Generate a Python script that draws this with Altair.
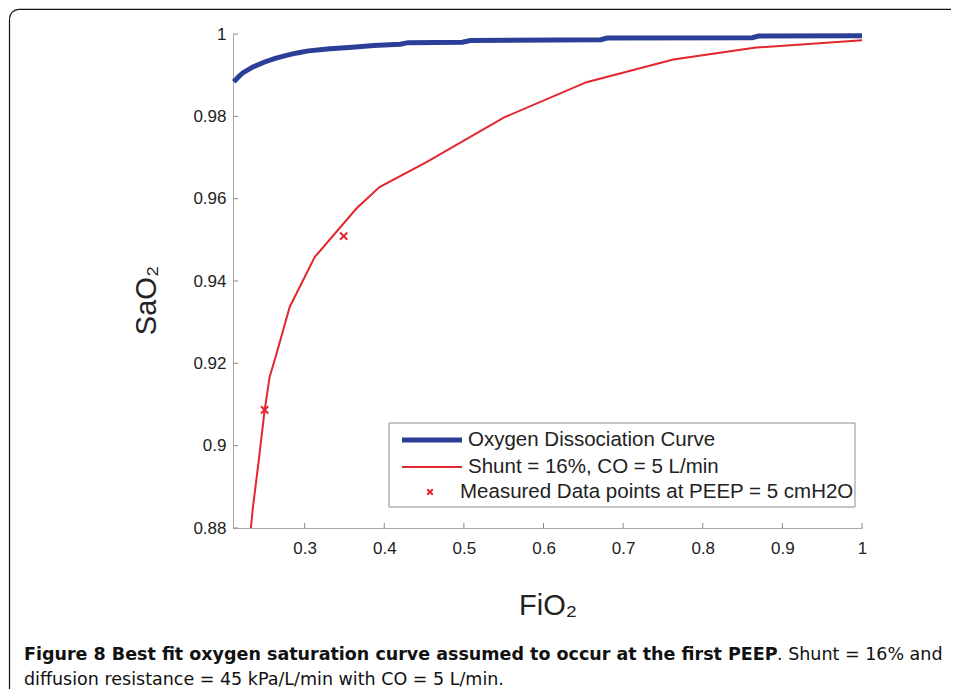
import altair as alt
import pandas as pd

# ---------------- data ----------------
ox_fio2 = [0.211, 0.218, 0.2227, 0.235, 0.2497, 0.263, 0.277, 0.2905, 0.3046, 0.332,
           0.36, 0.3867, 0.42, 0.43, 0.498, 0.508, 0.672, 0.68, 0.862, 0.87, 1.0]
ox_sao2 = [0.9884, 0.9898, 0.9906, 0.9920, 0.9932, 0.9941, 0.9948, 0.9954, 0.9959, 0.9964,
           0.9968, 0.9972, 0.9975, 0.9979, 0.9980, 0.9984, 0.9986, 0.9990, 0.9991, 0.9995, 0.9996]

shunt_fio2 = [0.2325, 0.235, 0.2426, 0.2497, 0.256, 0.2652, 0.2812, 0.3126, 0.365,
              0.394, 0.453, 0.55, 0.654, 0.763, 0.867, 1.0]
shunt_sao2 = [0.880, 0.885, 0.8968, 0.9086, 0.9167, 0.9227, 0.9337, 0.9458, 0.9576,
              0.9628, 0.9689, 0.9797, 0.9883, 0.9938, 0.9967, 0.9985]

meas_fio2 = [0.2497, 0.349]
meas_sao2 = [0.9087, 0.9509]

x_ticks = [0.3, 0.4, 0.5, 0.6, 0.7, 0.8, 0.9, 1.0]
y_ticks = [0.88, 0.90, 0.92, 0.94, 0.96, 0.98, 1.0]

legend_labels = ["Oxygen Dissociation Curve",
                 "Shunt = 16%, CO = 5 L/min",
                 "Measured Data points at PEEP = 5 cmH2O"]

caption_bold = "Figure 8 Best fit oxygen saturation curve assumed to occur at the first PEEP"
caption_rest = ". Shunt = 16% and"
caption_line2 = "diffusion resistance = 45 kPa/L/min with CO = 5 L/min."

# ---------------- styling ----------------
W, H = 629, 494
BLUE = "#2B3F98"
RED = "#E3262D"
AXIS_GRAY = "#A8A8A8"
TXT = "#222222"

xs = alt.Scale(domain=[0.21, 1.0], nice=False, zero=False)
ys = alt.Scale(domain=[0.88, 1.0], nice=False, zero=False)

x_axis = alt.Axis(values=x_ticks, format=".1~f", ticks=False, grid=False,
                  domainColor=AXIS_GRAY, labelFont="Liberation Sans", labelFontSize=17,
                  labelColor=TXT, labelPadding=12, labelFlush=False, labelOverlap=False,
                  title="FiO₂", titleFont="Liberation Sans", titleFontSize=29,
                  titleFontWeight="normal", titleColor=TXT, titleBaseline="alphabetic",
                  titleY=86)
y_axis = alt.Axis(values=y_ticks, format=".2~f", ticks=False, grid=False,
                  domainColor=AXIS_GRAY, labelFont="Liberation Sans", labelFontSize=17,
                  labelColor=TXT, labelPadding=7, labelOverlap=False,
                  title="SaO₂", titleFont="Liberation Sans", titleFontSize=29,
                  titleFontWeight="normal", titleColor=TXT, titleAngle=270,
                  titleBaseline="alphabetic", titleAlign="center", titleX=-78, titleY=266)

def xenc():
    return alt.X("FiO2:Q", scale=xs, axis=x_axis)

def yenc():
    return alt.Y("SaO2:Q", scale=ys, axis=y_axis)

ox_df = pd.DataFrame({"FiO2": ox_fio2, "SaO2": ox_sao2})
sh_df = pd.DataFrame({"FiO2": shunt_fio2, "SaO2": shunt_sao2})
me_df = pd.DataFrame({"FiO2": meas_fio2, "SaO2": meas_sao2})
xt_df = pd.DataFrame({"FiO2": x_ticks})
yt_df = pd.DataFrame({"SaO2": y_ticks})
one = pd.DataFrame({"k": [0]})

XPATH = "M-1,-1L1,1M-1,1L1,-1"

blue = alt.Chart(ox_df).mark_line(color=BLUE, strokeWidth=5, strokeCap="butt").encode(
    x=xenc(), y=yenc())
red = alt.Chart(sh_df).mark_line(color=RED, strokeWidth=2).encode(x=xenc(), y=yenc())
pts = alt.Chart(me_df).mark_point(shape=XPATH, filled=False, color=RED, strokeWidth=2,
                                  size=52, opacity=1).encode(x=xenc(), y=yenc())

xt = alt.Chart(xt_df).mark_rule(color="#888888", strokeWidth=1).encode(
    x=xenc(), y=alt.value(H), y2=alt.value(H - 5))
yt = alt.Chart(yt_df).mark_rule(color="#888888", strokeWidth=1).encode(
    y=yenc(), x=alt.value(0), x2=alt.value(5))

# ---- legend (drawn manually, MATLAB style) ----
LX0, LX1, LY0, LY1 = 156, 622, 389, 473
leg_box = alt.Chart(one).mark_rect(fill="white", stroke="#8C8C8C", strokeWidth=1).encode(
    x=alt.value(LX0), x2=alt.value(LX1), y=alt.value(LY0), y2=alt.value(LY1))
leg_l1 = alt.Chart(one).mark_rule(color=BLUE, strokeWidth=5).encode(
    x=alt.value(169), x2=alt.value(229), y=alt.value(406))
leg_l2 = alt.Chart(one).mark_rule(color=RED, strokeWidth=2).encode(
    x=alt.value(169), x2=alt.value(229), y=alt.value(433))
leg_m = alt.Chart(one).mark_point(shape=XPATH, filled=False, color=RED, strokeWidth=2,
                                  size=30, opacity=1).encode(
    x=alt.value(197), y=alt.value(458))

def leg_text(label, x, y):
    return alt.Chart(pd.DataFrame({"t": [label]})).mark_text(
        align="left", baseline="middle", font="Liberation Sans", fontSize=20.5, color=TXT
    ).encode(x=alt.value(x), y=alt.value(y), text="t:N")

leg_t1 = leg_text(legend_labels[0], 235, 406)
leg_t2 = leg_text(legend_labels[1], 235, 433)
leg_t3 = leg_text(legend_labels[2], 227, 458)

# ---- caption ----
def cap_text(label, x, y, weight):
    return alt.Chart(pd.DataFrame({"t": [label]})).mark_text(
        align="left", baseline="alphabetic", font="DejaVu Sans", fontSize=17.5,
        fontWeight=weight, color="#111111"
    ).encode(x=alt.value(x), y=alt.value(y), text="t:N")

cap1 = cap_text(caption_bold, -209, 626, "bold")
cap2 = cap_text(caption_rest, 544, 626, "normal")
cap3 = cap_text(caption_line2, -209, 651, "normal")

# ---- figure frame (top and left border with rounded corner) ----
frame_top = alt.Chart(one).mark_rule(color="#111111", strokeWidth=1.2).encode(
    x=alt.value(-214), x2=alt.value(720), y=alt.value(-24.7))
frame_left = alt.Chart(one).mark_rule(color="#111111", strokeWidth=1.2).encode(
    x=alt.value(-223.5), y=alt.value(-15), y2=alt.value(655))
frame_corner = alt.Chart(one).mark_arc(radius=10.0, radius2=8.8, theta=4.712, theta2=6.2832,
                                       color="#111111").encode(
    x=alt.value(-214.1), y=alt.value(-15.3))

chart = alt.layer(
    blue, red, pts, xt, yt,
    leg_box, leg_l1, leg_l2, leg_m, leg_t1, leg_t2, leg_t3,
    cap1, cap2, cap3, frame_top, frame_left, frame_corner
).properties(
    width=W, height=H,
    autosize=alt.AutoSizeParams(type="none"),
    padding={"left": 225, "top": 26, "right": 89, "bottom": 161},
    background="white"
).configure_view(stroke=None)

chart.save("out.html", embed_options={"renderer": "svg", "actions": False})
